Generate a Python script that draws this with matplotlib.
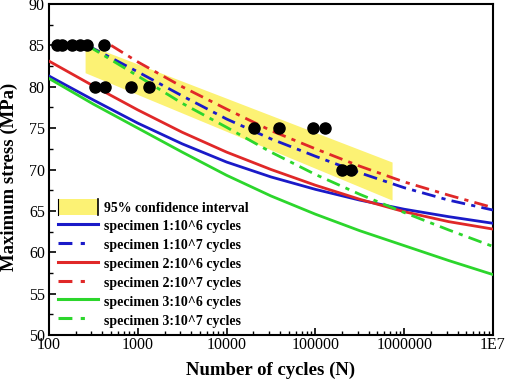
import numpy as np
import matplotlib
matplotlib.use("Agg")
import matplotlib.pyplot as plt
from matplotlib.patches import Rectangle, Patch
from matplotlib.lines import Line2D
from matplotlib.legend_handler import HandlerPatch
from matplotlib.ticker import FixedLocator, FixedFormatter, LogLocator, NullFormatter

plt.rcParams['font.family'] = ['Liberation Serif', 'DejaVu Serif']
plt.rcParams['lines.scale_dashes'] = False

# ---- data ----
curve_N = [100, 316, 1000, 3162, 10000, 31623, 100000, 316228, 1000000, 3162278, 10000000]
spec1_1e6 = [81.3, 78.4, 75.6, 73.1, 70.9, 69.1, 67.6, 66.3, 65.2, 64.3, 63.5]
spec2_1e6 = [83.1, 80.1, 77.2, 74.5, 72.1, 70.0, 68.1, 66.4, 64.9, 63.7, 62.8]
spec3_1e6 = [81.0, 77.9, 75.0, 72.1, 69.3, 66.8, 64.6, 62.6, 60.8, 59.0, 57.3]

spec1_7_N = [270, 1000, 3162, 10000, 31623, 100000, 316228, 1000000, 3162278, 10000000]
spec1_1e7 = [85.0, 81.8, 78.9, 76.1, 73.7, 71.6, 69.6, 67.8, 66.3, 65.1]
spec2_7_N = [500, 1000, 3162, 10000, 31623, 100000, 316228, 1000000, 3162278, 10000000]
spec2_1e7 = [85.0, 83.0, 80.0, 77.3, 74.7, 72.5, 70.4, 68.5, 66.9, 65.4]
spec3_7_N = [270, 1000, 3162, 10000, 31623, 100000, 316228, 1000000, 3162278, 10000000]
spec3_1e7 = [85.0, 81.3, 78.0, 75.1, 72.1, 69.4, 67.0, 64.8, 62.7, 60.7]

band_N = [255, 730000]
band_upper = [85.2, 70.9]
band_lower = [81.7, 66.3]

test_N = [123, 140, 182, 223, 268, 417, 330, 428, 838, 1337,
          20400, 39000, 93000, 129000, 200000, 250000]
test_S = [85, 85, 85, 85, 85, 85, 80, 80, 80, 80,
          75, 75, 75, 75, 70, 70]

xticks = [100, 1000, 10000, 100000, 1000000, 10000000]
xticklabels = ['100', '1000', '10000', '100000', '1000000', '1E7']
yticks = [50, 55, 60, 65, 70, 75, 80, 85, 90]

BLUE = '#1a1ac8'
RED = '#e02828'
GREEN = '#2cd62c'
YELLOW = '#fcf274'
DD = (0, (10, 4.5, 3, 4.5))

fig = plt.figure(figsize=(5.05, 3.92), dpi=100)
ax = fig.add_axes([49/505, 1-335/392, (493-49)/505, (335-4)/392])
ax.set_xscale('log')

band_x = np.logspace(np.log10(band_N[0]), np.log10(band_N[1]), 50)
up = np.interp(np.log10(band_x), np.log10(band_N), band_upper)
lo = np.interp(np.log10(band_x), np.log10(band_N), band_lower)
ax.fill_between(band_x, lo, up, color=YELLOW, lw=0, zorder=1)

lw = 2.0
ax.plot(curve_N, spec1_1e6, color=BLUE, lw=lw, zorder=3)
ax.plot(spec1_7_N, spec1_1e7, color=BLUE, lw=lw, ls=DD, zorder=3)
ax.plot(curve_N, spec2_1e6, color=RED, lw=lw, zorder=3)
ax.plot(spec2_7_N, spec2_1e7, color=RED, lw=lw, ls=DD, zorder=3)
ax.plot(curve_N, spec3_1e6, color=GREEN, lw=lw, zorder=3)
ax.plot(spec3_7_N, spec3_1e7, color=GREEN, lw=lw, ls=DD, zorder=3)
ax.plot(test_N, test_S, 'o', color='black', ms=8, zorder=4)

ax.set_xlim(100, 1e7)
ax.set_ylim(50, 90)
ax.xaxis.set_major_locator(FixedLocator(xticks))
ax.xaxis.set_major_formatter(FixedFormatter(xticklabels))
ax.xaxis.set_minor_locator(LogLocator(base=10, subs=np.arange(2, 10)))
ax.xaxis.set_minor_formatter(NullFormatter())
ax.set_yticks(yticks)
ax.set_yticks(np.arange(52.5, 90, 5), minor=True)
ax.tick_params(which='both', direction='in', top=False, right=False, labelsize=11.5)
ax.tick_params(axis='x', which='both', pad=1.5)
ax.tick_params(axis='y', which='both', pad=3)
ax.tick_params(which='major', length=5, width=1.2)
ax.tick_params(which='minor', length=3, width=1.0)
for s in ax.spines.values():
    s.set_linewidth(1.5)

ax.set_xlabel('Number of cycles (N)', fontsize=13.5, fontweight='bold')
ax.set_ylabel('Maximum stress (MPa)', fontsize=13.5, fontweight='bold')
ax.xaxis.set_label_coords(0.5, -0.08)
ax.yaxis.set_label_coords(-0.069, 0.477)


class BandHandler(HandlerPatch):
    def create_artists(self, legend, orig_handle, xdescent, ydescent, width, height, fontsize, trans):
        r = Rectangle((-xdescent, -ydescent), width, height, facecolor=YELLOW, edgecolor='none', transform=trans)
        l1 = Line2D([-xdescent, -xdescent], [-ydescent, -ydescent + height], color='black', lw=0.8, transform=trans)
        l2 = Line2D([-xdescent + width, -xdescent + width], [-ydescent, -ydescent + height], color='black', lw=1.2, transform=trans)
        return [r, l1, l2]


handles = [Patch(facecolor=YELLOW),
           Line2D([], [], color=BLUE, lw=2.2),
           Line2D([], [], color=BLUE, lw=2.2, ls=(0, (10, 6, 3, 20))),
           Line2D([], [], color=RED, lw=2.2),
           Line2D([], [], color=RED, lw=2.2, ls=(0, (10, 6, 3, 20))),
           Line2D([], [], color=GREEN, lw=2.2),
           Line2D([], [], color=GREEN, lw=2.2, ls=(0, (10, 6, 3, 20)))]
labels = ['95% confidence interval',
          'specimen 1:10^6 cycles', 'specimen 1:10^7 cycles',
          'specimen 2:10^6 cycles', 'specimen 2:10^7 cycles',
          'specimen 3:10^6 cycles', 'specimen 3:10^7 cycles']
leg = fig.legend(handles, labels, loc='upper left', bbox_to_anchor=(58/505, 1-199/392),
                 frameon=False, prop={'family': 'Liberation Serif', 'weight': 'bold', 'size': 10},
                 handlelength=2.85, handleheight=1.4, handletextpad=0.45, labelspacing=0.2,
                 borderpad=0, borderaxespad=0,
                 handler_map={Patch: BandHandler()})

fig.savefig('out.png', dpi=100)
